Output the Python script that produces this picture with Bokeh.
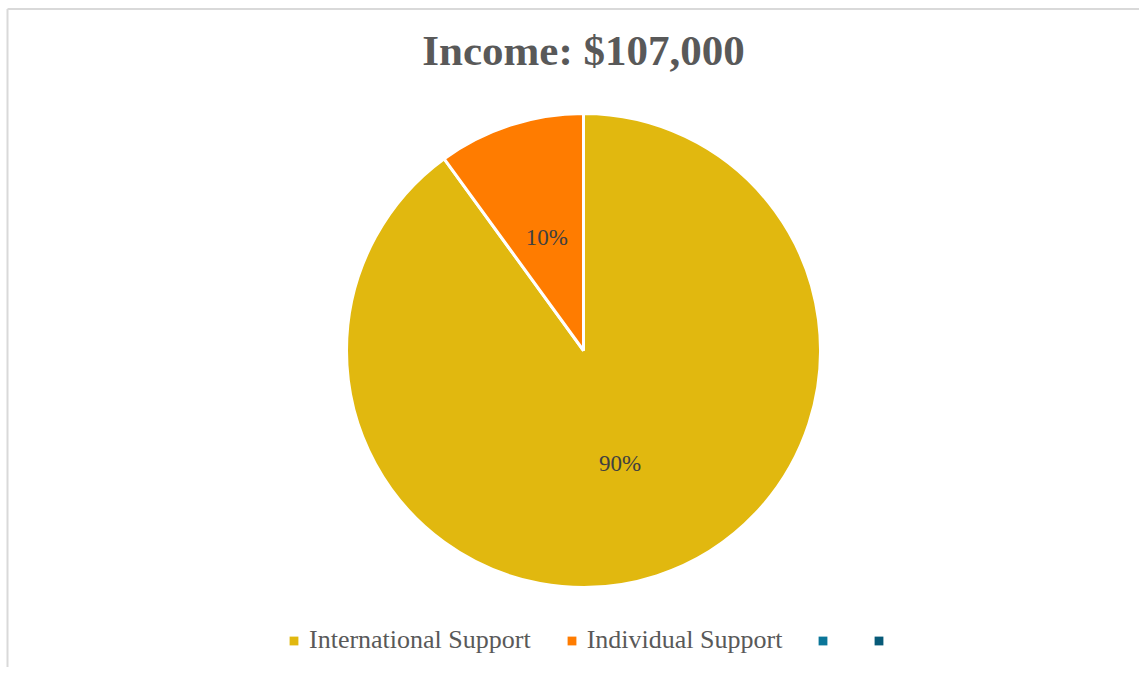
import math
from bokeh.plotting import figure
from bokeh.models import Range1d, Legend, LegendItem, ColumnDataSource
from bokeh.core.properties import value
from bokeh.embed import file_html
from bokeh.resources import INLINE

# ---- data ----
title_text = "Income: $107,000"
categories = ["International Support", "Individual Support", "", ""]
amounts = [96300, 10700, 0, 0]
colors = ["#E1B80F", "#FF7C00", "#0B7699", "#075A78"]

W, H = 1139, 667
CX, CY, R = 583, 317, 237
FONT = "Liberation Serif"

p = figure(width=W, height=H, output_backend="svg", toolbar_location=None,
           x_range=Range1d(0, W), y_range=Range1d(0, H),
           x_axis_location=None, y_axis_location=None, min_border=0,
           outline_line_color=None, background_fill_color="white",
           border_fill_color="white")
p.grid.visible = False

# chart border (left & top)
p.segment(x0=[7, 7], y0=[0, H - 8.5], x1=[7, W], y1=[H - 8.5, H - 8.5],
          line_color="#D9D9D9", line_width=2)

total = sum(amounts)
starts, ends, lx, ly, labels = [], [], [], [], []
cum = 0.0
for a in amounts:
    s = math.pi / 2 - 2 * math.pi * cum / total
    cum += a
    e = math.pi / 2 - 2 * math.pi * cum / total
    starts.append(s)
    ends.append(e)
    m = (s + e) / 2
    lx.append(CX + 0.5 * R * math.cos(m))
    ly.append(CY + 0.5 * R * math.sin(m))
    labels.append(f"{round(100 * a / total)}%")

n = sum(1 for a in amounts if a > 0)
src = ColumnDataSource(dict(start=starts[:n], end=ends[:n], color=colors[:n],
                            x=[CX] * n, y=[CY] * n))
p.wedge(x="x", y="y", radius=R, start_angle="start", end_angle="end",
        direction="clock", fill_color="color", line_color="white",
        line_width=3, source=src)

p.text(x=lx[:n], y=ly[:n], text=labels[:n], text_align="center",
       text_baseline="middle", text_font=value(FONT), text_font_size="23px",
       text_color="#404040")

# title
p.text(x=[CX], y=[H - 50], text=[title_text], text_align="center",
       text_baseline="alphabetic", text_font=value(FONT),
       text_font_style="bold", text_font_size="43px", text_color="#595959")

# legend (zero-area swatch renderers)
items = []
for cat, c in zip(categories, colors):
    r = p.quad(left=[CX], right=[CX], top=[CY], bottom=[CY],
               fill_color=c, line_color=None)
    items.append(LegendItem(label=value(cat), renderers=[r]))

legend = Legend(items=items, orientation="horizontal", location=(288, 12),
                border_line_color=None, background_fill_alpha=0,
                padding=0, margin=0, glyph_width=11, glyph_height=11,
                label_standoff=10, spacing=35, label_width=0,
                label_text_font=FONT, label_text_font_size="26px",
                label_text_color="#595959")
p.add_layout(legend, "center")

open("out.html", "w").write(file_html(p, INLINE))
